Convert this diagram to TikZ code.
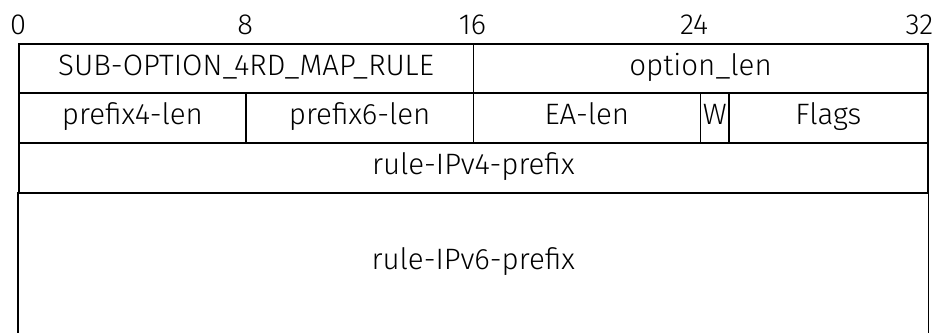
\documentclass[tikz,border=0pt]{standalone}
\usepackage{fontspec}
\setmainfont{Fira Sans}[UprightFont={* Light}]
\usepackage{tikz}
\usetikzlibrary{positioning}

\begin{document}
\begin{tikzpicture}[x=28.40625pt, y=1pt, line width=1.6pt,
    field/.style={draw, rectangle, inner sep=0pt, anchor=north west,
        text height=21pt, text depth=7pt,
        font=\fontsize{29.5}{29.5}\selectfont},
    bitno/.style={inner sep=0pt, font=\fontsize{29}{29}\selectfont}]
    % Define the bit width and row heights
    \def\bitw{28.40625pt}
    \useasboundingbox (-18pt,43) rectangle (918pt,-289);
    % Bit numbers
    \foreach \b in {0,8,16} {
        \node[bitno] (n\b) at (\b,18) {\b};
    }
    \node[bitno] (n24) at (23.8,18) {24};
    \node[bitno, anchor=east] (n32) at (32.25,18) {32};

    % Row 1
    \node[field, minimum width=16*\bitw, minimum height=49pt] (subopt) at (0,0) {SUB-OPTION\_4RD\_MAP\_RULE};
    \node[field, minimum width=16*\bitw, minimum height=49pt] (optlen) at (16,0) {option\_len};
    % Row 2
    \node[field, minimum width=8*\bitw, minimum height=50pt] (p4len) at (0,-49) {prefix4-len};
    \node[field, minimum width=8*\bitw, minimum height=50pt] (p6len) at (8,-49) {prefix6-len};
    \node[field, minimum width=8*\bitw, minimum height=50pt] (ealen) at (16,-49) {EA-len};
    \node[field, minimum width=1*\bitw, minimum height=50pt] (wbit) at (24,-49) {W};
    \node[field, minimum width=7*\bitw, minimum height=50pt] (flags) at (25,-49) {Flags};
    % Row 3
    \node[field, minimum width=32*\bitw, minimum height=50pt] (v4pfx) at (0,-99) {rule-IPv4-prefix};
    % Row 4 (open at the bottom)
    \node[field, draw=none, minimum width=32*\bitw, minimum height=140pt] (v6pfx) at (0,-149) {rule-IPv6-prefix};
    \draw (v6pfx.north west) -- (v6pfx.south west);
    \draw (v6pfx.north east) -- (v6pfx.south east);
\end{tikzpicture}
\end{document}
